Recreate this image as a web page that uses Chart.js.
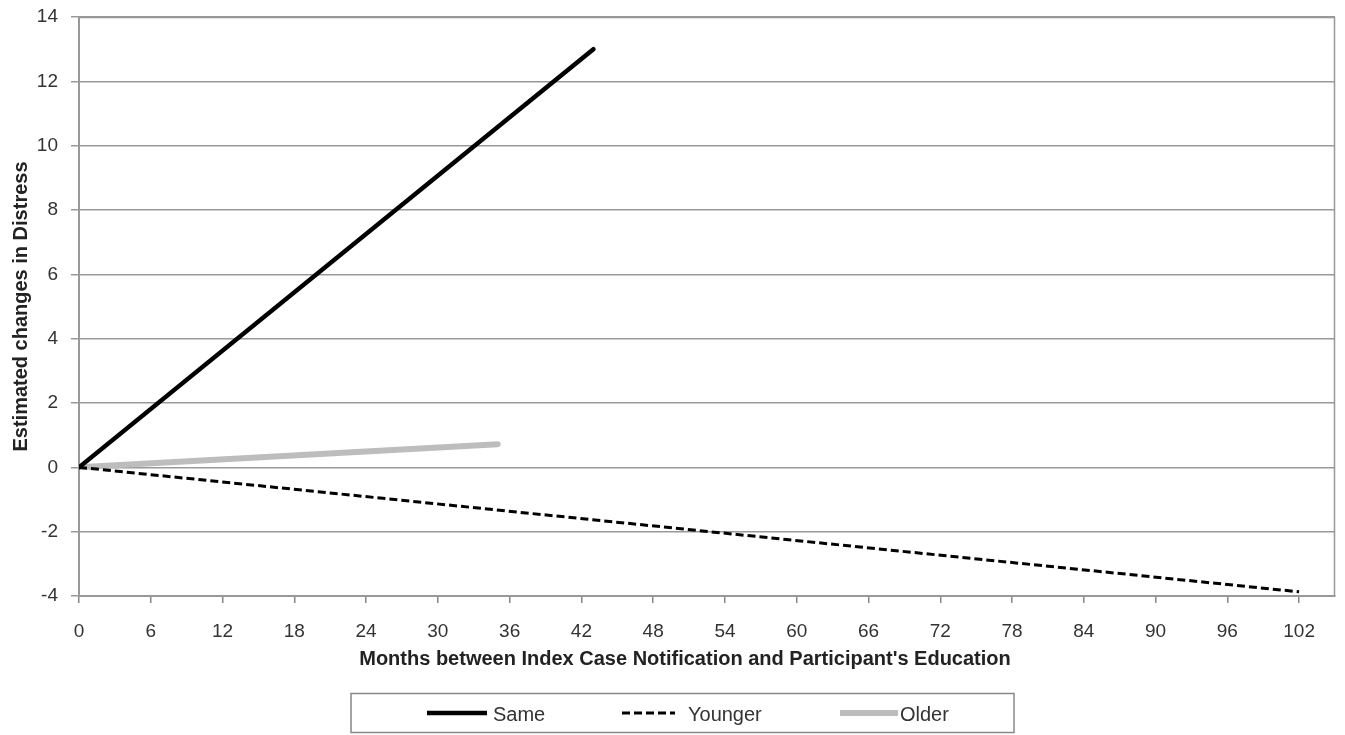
<!DOCTYPE html>
<html>
<head>
<meta charset="utf-8">
<script src="https://cdn.jsdelivr.net/npm/chart.js@4/dist/chart.umd.min.js"></script>
<style>
  html, body { margin: 0; padding: 0; background: #fff; }
  #wrap { width: 1345px; height: 735px; }
</style>
</head>
<body>
<div id="wrap"><canvas id="myChart" width="1345" height="735"></canvas></div>
<script>
"use strict";

// data
const seriesNames = ["Same", "Younger", "Older"];
const sameMonths = [0, 43];
const sameValues = [0, 13];
const youngerMonths = [0, 102];
const youngerValues = [0, -3.87];
const olderMonths = [0, 35];
const olderValues = [0, 0.72];
const xTickValues = [0, 6, 12, 18, 24, 30, 36, 42, 48, 54, 60, 66, 72, 78, 84, 90, 96, 102];
const yTickValues = [-4, -2, 0, 2, 4, 6, 8, 10, 12, 14];
const xTitle = "Months between Index Case Notification and Participant's Education";
const yTitle = "Estimated changes in Distress";

const FONT = "'Liberation Sans', Arial, sans-serif";

function toPoints(xs, ys) {
    return xs.map(function (x, i) { return { x: x, y: ys[i] }; });
}

// x title + legend box with line samples
const bottomTexts = {
    id: "bottomTexts",
    afterDraw: function (chart) {
        let ctx = chart.ctx;
        ctx.save();
        ctx.fillStyle = "#222";
        ctx.font = "bold 20px " + FONT;
        ctx.textAlign = "center";
        ctx.textBaseline = "middle";
        ctx.fillText(xTitle, 685, 659);

        ctx.strokeStyle = "#888";
        ctx.lineWidth = 1.5;
        ctx.strokeRect(351, 693.5, 663, 39);
        let starts = [427, 622, 840];
        let textX = [493, 688, 900];
        let lens = [60, 53, 58];
        ctx.font = "20px " + FONT;
        ctx.textAlign = "left";
        chart.data.datasets.forEach(function (ds, i) {
            ctx.beginPath();
            ctx.strokeStyle = ds.borderColor;
            ctx.lineWidth = ds.borderWidth;
            ctx.setLineDash(ds.borderDash || []);
            ctx.moveTo(starts[i], 713);
            ctx.lineTo(starts[i] + lens[i], 713);
            ctx.stroke();
            ctx.setLineDash([]);
            ctx.fillStyle = "#333";
            ctx.fillText(ds.label, textX[i], 715);
        });
        ctx.restore();
    }
};

// plot frame
const frame = {
    id: "frame",
    beforeDatasetsDraw: function (chart) {
        let a = chart.chartArea;
        let ctx = chart.ctx;
        ctx.save();
        ctx.strokeStyle = "#999";
        ctx.lineWidth = 1.5;
        ctx.beginPath();
        ctx.moveTo(a.left, a.top + 0.5);
        ctx.lineTo(a.right - 0.5, a.top + 0.5);
        ctx.lineTo(a.right - 0.5, a.bottom);
        ctx.stroke();
        ctx.restore();
    }
};

new Chart(document.getElementById("myChart"), {
    type: "line",
    data: {
        datasets: [
            {
                label: seriesNames[0],
                data: toPoints(sameMonths, sameValues),
                borderColor: "#000",
                borderWidth: 4.5,
                borderCapStyle: "round",
                pointRadius: 0
            },
            {
                label: seriesNames[1],
                data: toPoints(youngerMonths, youngerValues),
                borderColor: "#000",
                borderWidth: 3,
                borderDash: [8, 4],
                pointRadius: 0
            },
            {
                label: seriesNames[2],
                data: toPoints(olderMonths, olderValues),
                borderColor: "#bdbdbd",
                borderWidth: 6,
                borderCapStyle: "round",
                pointRadius: 0
            }
        ]
    },
    options: {
        responsive: false,
        animation: false,
        layout: { padding: { left: 0, right: 10, top: 17, bottom: 85 } },
        plugins: {
            legend: { display: false },
            tooltip: { enabled: false }
        },
        scales: {
            x: {
                type: "linear",
                min: 0,
                max: 105,
                afterBuildTicks: function (axis) {
                    axis.ticks = xTickValues.map(function (v) { return { value: v }; });
                },
                afterFit: function (axis) {
                    axis.height = 54;
                    axis.paddingLeft = 0;
                    axis.paddingRight = 0;
                },
                grid: {
                    drawOnChartArea: false,
                    drawTicks: true,
                    tickLength: 7,
                    color: "#888",
                    lineWidth: 1.5
                },
                border: { color: "#999", width: 2 },
                ticks: {
                    color: "#333",
                    font: { family: FONT, size: 19 },
                    padding: 17,
                    maxRotation: 0,
                    autoSkip: false
                }
            },
            y: {
                min: -4,
                max: 14,
                afterBuildTicks: function (axis) {
                    axis.ticks = yTickValues.map(function (v) { return { value: v }; });
                },
                afterFit: function (axis) {
                    axis.width = 79;
                    axis.paddingTop = 0;
                    axis.paddingBottom = 0;
                },
                grid: {
                    color: "#999",
                    lineWidth: 1.5,
                    drawTicks: true,
                    tickLength: 8
                },
                border: { color: "#999", width: 2 },
                ticks: {
                    color: "#333",
                    font: { family: FONT, size: 19 },
                    padding: 13
                },
                title: {
                    display: true,
                    text: yTitle,
                    color: "#222",
                    font: { family: FONT, size: 20, weight: "bold" },
                    padding: { top: 9, bottom: 0 }
                }
            }
        }
    },
    plugins: [frame, bottomTexts]
});
</script>
</body>
</html>
